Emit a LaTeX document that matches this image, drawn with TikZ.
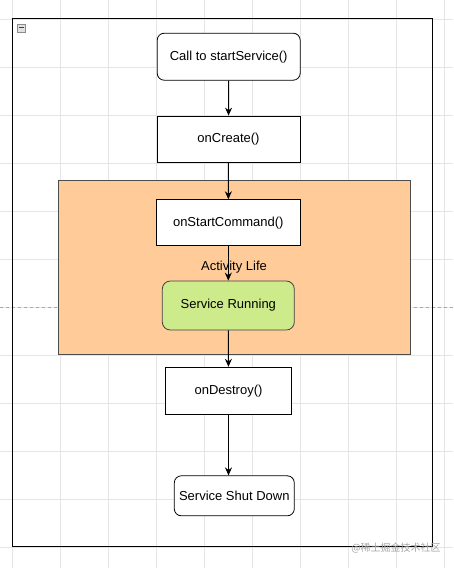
\documentclass[tikz,border=0pt]{standalone}
\usepackage{fontspec}
\setmainfont{Liberation Sans}
\newfontfamily\cjk{Noto Sans CJK SC}
\usetikzlibrary{arrows.meta}

\begin{document}
\begin{tikzpicture}[x=1pt,y=-1pt]
        \tikzstyle{proc} = [rectangle, minimum width=143pt, minimum height=46pt, text centered, draw=black, fill=white, line width=0.8pt, font=\fontsize{13}{15}\selectfont]
        \tikzstyle{term} = [proc, rounded corners=7pt]
        \tikzstyle{arrow} = [line width=1pt,-{Stealth[length=8pt,width=7pt]}]
        \tikzstyle{gridline} = [line width=0.6pt, black!10]

                \useasboundingbox (0,0) rectangle (453,568);
                \fill[white] (0,0) rectangle (453,568);
                \foreach \gx in {12,60,...,444} \draw[gridline] (\gx,0) -- (\gx,568);
                \foreach \gy in {19,67,...,547} \draw[gridline] (0,\gy) -- (453,\gy);
                \draw[dashed, black!35, line width=0.6pt] (0,307) -- (453,307);

                \node (frame) [draw=black, line width=1pt, minimum width=420pt, minimum height=528pt, inner sep=0] at (222.7,282.5) {};
                \node (fold) [draw=black!45, fill=black!12, minimum size=8pt, inner sep=0] at (21.5,27.8) {};
                \draw[line width=1pt, black!75] ([xshift=2pt]fold.west) -- ([xshift=-2pt]fold.east);

                \node (life) [draw=black!70, fill={rgb,255:red,255;green,204;blue,153}, line width=0.8pt, minimum width=352pt, minimum height=174pt, inner sep=0] at (234.2,267) {};

                \node (call) [term, minimum height=47pt] at (228.7,56.7) {Call to startService()};
                \node (create) [proc] at (228.5,139) {onCreate()};
                \node (start) [proc, minimum width=144pt] at (228.3,222.7) {onStartCommand()};
                \node (running) [term, minimum width=132pt, minimum height=49pt, rounded corners=8pt, draw=black!75, fill={rgb,255:red,205;green,235;blue,139}] at (228.3,305.5) {Service Running};
                \node (destroy) [proc, minimum width=126pt, minimum height=47pt] at (228.5,390.7) {onDestroy()};
                \node (shut) [term, minimum width=120pt, minimum height=40pt] at (234.3,495.8) {Service Shut Down};

                \draw[arrow] (call) -- (create);
                \draw[arrow] (create) -- (start);
                \draw[arrow] (start) -- (running);
                \draw[arrow] (running) -- (destroy);
                \draw[arrow] (destroy.south) -- (destroy.south |- shut.north);

                \node (lifelabel) [font=\fontsize{13}{15}\selectfont] at (234,267) {Activity Life};
                \node (mark) [text=black!35, font=\cjk\fontsize{10}{12}\selectfont] at (396,548) {@稀土掘金技术社区};
    \end{tikzpicture}
\end{document}
